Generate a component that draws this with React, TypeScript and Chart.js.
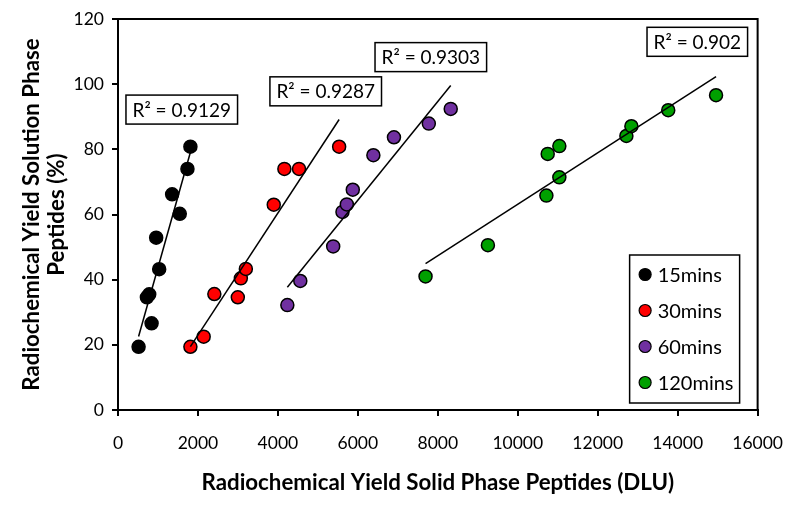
import React, { useEffect, useRef } from 'react';
import { Chart, registerables } from 'chart.js';

Chart.register(...registerables);

// ---- data ----
const seriesLabels = ['15mins', '30mins', '60mins', '120mins'];
const seriesColors = ['#000000', '#ff0000', '#7030a0', '#00a000'];

const x15 = [515, 723, 781, 840, 955, 1030, 1354, 1545, 1737, 1811];
const y15 = [19.4, 34.6, 35.5, 26.6, 52.9, 43.2, 66.2, 60.2, 74.0, 80.8];
const x30 = [1811, 2143, 2410, 2997, 3073, 3198, 3896, 4162, 4528, 5532];
const y30 = [19.4, 22.5, 35.6, 34.6, 40.4, 43.3, 63.0, 74.0, 74.0, 80.8];
const x60 = [4236, 4560, 5383, 5615, 5724, 5873, 6388, 6903, 7775, 8323];
const y60 = [32.2, 39.6, 50.2, 60.8, 63.1, 67.6, 78.2, 83.7, 87.9, 92.4];
const x120 = [7693, 9253, 10716, 10749, 11040, 11040, 12717, 12842, 13764, 14960];
const y120 = [41.0, 50.6, 65.8, 78.6, 71.4, 81.0, 84.1, 87.1, 92.0, 96.6];

const r2Values = ['0.9129', '0.9287', '0.9303', '0.902'];

const xTitle = 'Radiochemical Yield Solid Phase Peptides (DLU)';
const yTitle = ['Radiochemical Yield Solution Phase', 'Peptides (%)'];

const xs = [x15, x30, x60, x120];
const ys = [y15, y30, y60, y120];

// ---- helpers ----
function linearFit(xv: number[], yv: number[]) {
  const n = xv.length;
  const mx = xv.reduce((a, b) => a + b, 0) / n;
  const my = yv.reduce((a, b) => a + b, 0) / n;
  let sxy = 0, sxx = 0;
  for (let i = 0; i < n; i++) {
    sxy += (xv[i] - mx) * (yv[i] - my);
    sxx += (xv[i] - mx) * (xv[i] - mx);
  }
  const slope = sxy / sxx;
  const icpt = my - slope * mx;
  const x0 = Math.min(...xv), x1 = Math.max(...xv);
  return [
    { x: x0, y: icpt + slope * x0 },
    { x: x1, y: icpt + slope * x1 },
  ];
}

const FONT = 'Lato';

// label anchors in data coordinates (style)
const r2Anchors = [
  { x: 1595, y: 92.2 },
  { x: 5196, y: 97.8 },
  { x: 7825, y: 108.3 },
  { x: 14491, y: 113.0 },
];

const r2Plugin = {
  id: 'r2labels',
  afterDatasetsDraw(chart: any) {
    const { ctx, scales } = chart;
    ctx.save();
    ctx.font = `19px ${FONT}`;
    r2Anchors.forEach((a, i) => {
      const cx = scales.x.getPixelForValue(a.x);
      const cy = scales.y.getPixelForValue(a.y);
      const text = 'R² = ' + r2Values[i];
      const w = ctx.measureText(text).width + 13;
      const h = 29;
      ctx.fillStyle = '#ffffff';
      ctx.fillRect(cx - w / 2, cy - h / 2, w, h);
      ctx.strokeStyle = '#000000';
      ctx.lineWidth = 1.5;
      ctx.strokeRect(cx - w / 2, cy - h / 2, w, h);
      ctx.fillStyle = '#000000';
      ctx.textAlign = 'center';
      ctx.textBaseline = 'middle';
      ctx.fillText(text, cx, cy + 1);
    });
    ctx.restore();
  },
};

const framePlugin = {
  id: 'frame',
  beforeDatasetsDraw(chart: any) {
    const { ctx, chartArea: ca } = chart;
    ctx.save();
    ctx.strokeStyle = '#000000';
    ctx.lineWidth = 2;
    ctx.beginPath();
    ctx.moveTo(ca.left, ca.top);
    ctx.lineTo(ca.right, ca.top);
    ctx.lineTo(ca.right, ca.bottom);
    ctx.stroke();
    ctx.restore();
  },
};

const legendPlugin = {
  id: 'boxLegend',
  afterDraw(chart: any) {
    const { ctx, chartArea: ca } = chart;
    const w = 110, h = 148;
    const right = ca.right - 18, bottom = ca.bottom - 7;
    const left = right - w, top = bottom - h;
    ctx.save();
    ctx.fillStyle = '#ffffff';
    ctx.fillRect(left, top, w, h);
    ctx.strokeStyle = '#000000';
    ctx.lineWidth = 1.5;
    ctx.strokeRect(left, top, w, h);
    ctx.font = `20px ${FONT}`;
    ctx.textBaseline = 'middle';
    ctx.textAlign = 'left';
    seriesLabels.forEach((lab, i) => {
      const cy = top + 19.5 + i * 36;
      ctx.beginPath();
      ctx.arc(left + 15.5, cy, 6, 0, Math.PI * 2);
      ctx.fillStyle = seriesColors[i];
      ctx.fill();
      ctx.lineWidth = 1.2;
      ctx.strokeStyle = '#000000';
      ctx.stroke();
      ctx.fillStyle = '#000000';
      ctx.fillText(lab, left + 28, cy + 1);
    });
    ctx.restore();
  },
};

export default function App() {
  const ref = useRef<HTMLCanvasElement | null>(null);

  useEffect(() => {
    if (!ref.current) return;
    const scatterSets = seriesLabels.map((lab, i) => ({
      type: 'scatter' as const,
      label: lab,
      data: xs[i].map((xv, j) => ({ x: xv, y: ys[i][j] })),
      backgroundColor: seriesColors[i],
      borderColor: '#000000',
      borderWidth: 1.5,
      pointRadius: 6.5,
      order: 1,
    }));
    const trendSets = seriesLabels.map((lab, i) => ({
      type: 'scatter' as const,
      label: lab + ' trend',
      data: linearFit(xs[i], ys[i]),
      showLine: true,
      borderColor: '#000000',
      borderWidth: 1.5,
      pointRadius: 0,
      fill: false,
      order: 0,
    }));

    const chart = new Chart(ref.current, {
      type: 'scatter',
      data: { datasets: [...scatterSets, ...trendSets] as any },
      options: {
        responsive: false,
        animation: false,
        layout: { padding: { top: 19, right: 40, left: 0, bottom: 0 } },
        plugins: {
          legend: { display: false },
          tooltip: { enabled: false },
        },
        scales: {
          x: {
            type: 'linear',
            min: 0,
            max: 16000,
            ticks: {
              stepSize: 2000,
              padding: 17,
              color: '#000000',
              font: { family: FONT, size: 17.5 },
              callback: (v: any) => String(v),
            },
            grid: {
              drawOnChartArea: false,
              drawTicks: true,
              tickLength: 6,
              color: '#000000',
              lineWidth: 2,
            },
            border: { display: true, color: '#000000', width: 2 },
            title: {
              display: true,
              text: xTitle,
              color: '#000000',
              font: { family: FONT, size: 22.3, weight: 'bold', lineHeight: 1.1 },
              padding: { top: 0, bottom: 16 },
            },
            afterFit: (scale: any) => {
              scale.height = 101;
            },
          },
          y: {
            type: 'linear',
            min: 0,
            max: 120,
            ticks: {
              stepSize: 20,
              padding: 8,
              color: '#000000',
              font: { family: FONT, size: 17.5 },
            },
            grid: {
              drawOnChartArea: false,
              drawTicks: true,
              tickLength: 6,
              color: '#000000',
              lineWidth: 2,
            },
            border: { display: true, color: '#000000', width: 2 },
            title: {
              display: true,
              text: yTitle,
              color: '#000000',
              font: { family: FONT, size: 22.3, weight: 'bold', lineHeight: 1.13 },
              padding: { top: 19, bottom: 0 },
            },
            afterFit: (scale: any) => {
              scale.width = 118;
            },
          },
        },
      },
      plugins: [framePlugin, r2Plugin, legendPlugin],
    });
    return () => chart.destroy();
  }, []);

  return (
    <div style={{ position: 'absolute', left: 0, top: 0, width: 800, height: 511, background: '#ffffff' }}>
      <canvas ref={ref} width={800} height={511} />
    </div>
  );
}
